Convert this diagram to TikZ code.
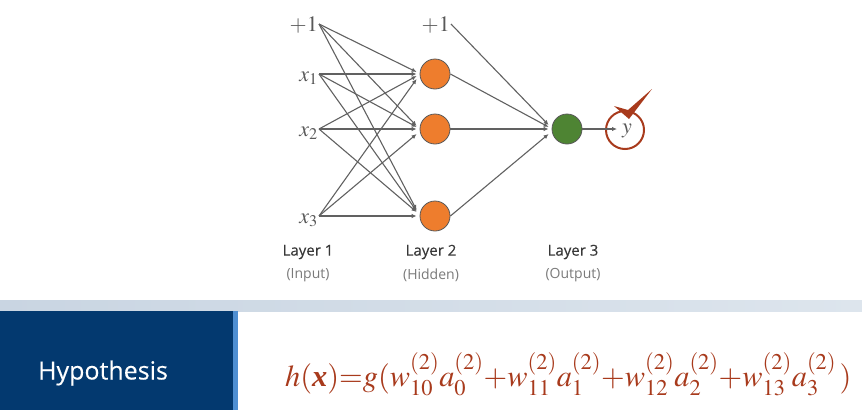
\documentclass[tikz,border=0pt]{standalone}
\usepackage{amsmath}
\usepackage{mathptmx}
\usepackage[no-math]{fontspec}
\setmainfont{Open Sans}
\newfontfamily\serifrm{Liberation Serif}
\newfontfamily\capfont[FakeBold=0.25]{Open Sans}
\usepackage{tikz}
\usetikzlibrary{arrows.meta, shadings}
\definecolor{hiddenorange}{HTML}{EE7D2D}
\definecolor{outgreen}{HTML}{4E8433}
\definecolor{rustred}{HTML}{A83A1C}
\definecolor{navybox}{HTML}{03396F}
\definecolor{stripblue}{HTML}{4F8FD2}
\definecolor{bandleft}{HTML}{C9D5E2}
\definecolor{bandright}{HTML}{DDE5ED}
\tikzset{
    link/.style={draw=black!62, line width=1.1pt, -{Latex[length=5pt,width=4.5pt]}},
    unit/.style={circle, draw=black!65, line width=0.8pt, minimum size=30pt, inner sep=0pt},
    invec/.style={anchor=east, inner sep=1pt, text height=16pt, text depth=2pt, text=black!65, font=\fontsize{22}{24}\selectfont},
    layername/.style={text=black!78, inner sep=0pt, font=\capfont\fontsize{15}{17}\selectfont},
    layerkind/.style={text=black!52, inner sep=0pt, font=\fontsize{14}{17}\selectfont},
}
\begin{document}
\begin{tikzpicture}[x=1pt,y=-1pt]
    \useasboundingbox (0,0) rectangle (862,410);
    % input side
    \node[invec] (Ione) at (319,24) {$+1$};
    \node[invec] (Xa) at (319,74) {$x_1$};
    \node[invec] (Xb) at (319,129) {$x_2$};
    \node[invec] (Xc) at (319,216) {$x_3$};
    \node[invec] (Itwo) at (451,24) {$+1$};
    % hidden and output units
    \node[unit, fill=hiddenorange] (Ha) at (435,74) {};
    \node[unit, fill=hiddenorange] (Hb) at (435,129) {};
    \node[unit, fill=hiddenorange] (Hc) at (435,216) {};
    \node[unit, fill=outgreen] (Out) at (567,129) {};
    \node[circle, draw=rustred, line width=2pt, minimum size=38pt, inner sep=0pt] (Ring) at (625,130) {};
    \node[anchor=west, inner ysep=0pt, inner xsep=5pt, text height=10pt, text depth=2pt, text=black!65, font=\fontsize{22}{24}\selectfont] (Yhat) at (617,129) {$y$};
    \fill[rustred] (614,106) -- (628,110) -- (652,89) -- (629,119) -- cycle;
    % first layer to second layer
    \draw[link] (Ione.east) -- ([xshift=-3pt,yshift=2pt]Ha.west);
    \draw[link] (Xa.east) -- ([xshift=-3pt]Ha.west);
    \draw[link] (Xb.east) -- ([xshift=-3pt,yshift=-2pt]Ha.west);
    \draw[link] (Xc.east) -- ([xshift=-3pt,yshift=-5pt]Ha.west);
    \draw[link] (Ione.east) -- ([xshift=-3pt,yshift=3pt]Hb.west);
    \draw[link] (Xa.east) -- ([xshift=-3pt,yshift=2pt]Hb.west);
    \draw[link] (Xb.east) -- ([xshift=-3pt]Hb.west);
    \draw[link] (Xc.east) -- ([xshift=-3pt,yshift=-5pt]Hb.west);
    \draw[link] (Ione.east) -- ([xshift=-3pt,yshift=6pt]Hc.west);
    \draw[link] (Xa.east) -- ([xshift=-3pt,yshift=5pt]Hc.west);
    \draw[link] (Xb.east) -- ([xshift=-3pt,yshift=4pt]Hc.west);
    \draw[link] (Xc.east) -- ([xshift=-3pt]Hc.west);
    % second layer to output
    \draw[link] (Itwo.east) -- ([xshift=-3pt,yshift=4pt]Out.west);
    \draw[link] (Ha.east) -- ([xshift=-3pt,yshift=2pt]Out.west);
    \draw[link] (Hb.east) -- ([xshift=-3pt]Out.west);
    \draw[link] (Hc.east) -- ([xshift=-3pt,yshift=-5pt]Out.west);
    \draw[link] (Out.east) -- (Yhat.west);
    % layer captions
    \node[layername] (La) at (308,252) {Layer 1};
    \node[layerkind] (Ka) at (308,275) {(Input)};
    \node[layername] (Lb) at (431,252) {Layer 2};
    \node[layerkind] (Kb) at (431,275) {(Hidden)};
    \node[layername] (Lc) at (573,252) {Layer 3};
    \node[layerkind] (Kc) at (573,275) {(Output)};
    % bottom band
    \shade[left color=bandleft, right color=bandright] (0,300) rectangle (862,311);
    \fill[navybox] (0,311) rectangle (233,410);
    \fill[stripblue] (233,311) rectangle (238,410);
    \node[text=white, inner sep=0pt, font=\capfont\fontsize{25}{30}\selectfont] (Hyp) at (103,373) {Hypothesis};
    \node[text=rustred, anchor=base west, inner sep=0pt, font=\fontsize{30.4}{36}\selectfont] (Form) at (285,386)
        {$h(\mbox{\serifrm\bfseries\itshape x})\mathord{=}g(w_{10}^{(2)}a_0^{(2)}\mathord{+}w_{11}^{(2)}a_1^{(2)}\mathord{+}w_{12}^{(2)}a_2^{(2)}\mathord{+}w_{13}^{(2)}a_3^{(2)}\,)$};
\end{tikzpicture}
\end{document}
